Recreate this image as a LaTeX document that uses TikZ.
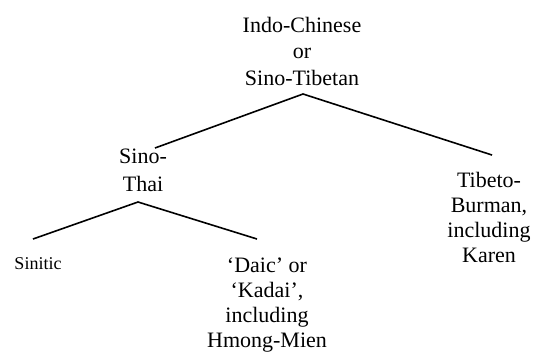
\documentclass[tikz,border=0pt]{standalone}
\usepackage{fontspec}
\setmainfont{Liberation Serif}
\usepackage{tikz}

\tikzset{
    lang/.style={align=center, inner sep=0pt, anchor=base, font=\fontsize{22}{24.7}\selectfont},
    smalllang/.style={lang, font=\fontsize{18}{21}\selectfont},
    branch/.style={line width=1.6pt}
}

\begin{document}
\begin{tikzpicture}[x=1pt,y=-1pt]
    \useasboundingbox (0,0) rectangle (543,357);

    %Nodo raiz (base = ultima linea)
    \node[lang, font=\fontsize{22}{26.5}\selectfont] (root) at (302,85) {Indo-Chinese\\or\\Sino-Tibetan};
    \coordinate (rootfork) at (303,94);
    \coordinate (rootleft) at (155,148);
    \coordinate (rootright) at (492,155);
    \draw[branch] (rootleft) -- (rootfork) -- (rootright); %ramas de la raiz

    %Sino-Thai y sus hijos
    \node[lang, font=\fontsize{22}{27.5}\selectfont] (sinothai) at (143,191) {Sino-\\Thai};
    \coordinate (stfork) at (138,202);
    \coordinate (stleft) at (33,239);
    \coordinate (stright) at (257,239);
    \draw[branch] (stleft) -- (stfork) -- (stright); %ramas de Sino-Thai

    \node[smalllang] (sinitic) at (38,269) {Sinitic};
    \node[lang] (daic) at (267,347) {`Daic' or\\`Kadai',\\including\\Hmong-Mien};

    %Tibeto-Burman
    \node[lang] (tibeto) at (489,262) {Tibeto-\\Burman,\\including\\Karen};
\end{tikzpicture}
\end{document}
